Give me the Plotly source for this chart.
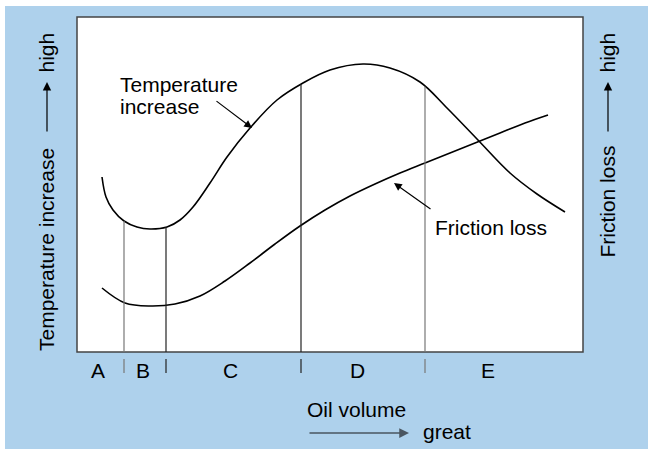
import numpy as np
import plotly.graph_objects as go

# ---- data (arbitrary units: oil volume vs. level) ----
temp_x = [25, 29, 36, 47, 60, 73, 90, 103, 116, 133, 150, 173, 200, 226, 253, 286, 313, 343, 370, 400, 433, 460, 488]
temp_y = [175, 155, 142, 131, 125, 123, 125, 132, 145, 169, 195, 224, 252, 269, 282, 288, 284, 270, 244, 213, 179, 158, 140]

fric_x = [25, 48, 73, 98, 123, 148, 173, 198, 223, 248, 273, 298, 323, 348, 373, 398, 423, 448, 471]
fric_y = [64, 49, 46, 48, 56, 71, 89, 108, 126, 142, 156, 168, 179, 189, 199, 209, 219, 229, 237]

zone_bounds = [47, 89, 224, 348]
zone_colors = ["#777777", "#222222", "#222222", "#777777"]
zone_labels = ["A", "B", "C", "D", "E"]
zone_label_x = [21, 66, 153, 280, 411]

X_RANGE = [0, 506]
Y_RANGE = [0, 335]

FONT = "Liberation Sans, Arial, sans-serif"
FS = 21
BLUE = "#aed1ec"

fig = go.Figure()

fig.add_trace(go.Scatter(x=temp_x, y=temp_y, mode="lines",
                         line=dict(color="black", width=1.6, shape="spline", smoothing=1.0),
                         hoverinfo="skip", showlegend=False))
fig.add_trace(go.Scatter(x=fric_x, y=fric_y, mode="lines",
                         line=dict(color="black", width=1.6, shape="spline", smoothing=1.0),
                         hoverinfo="skip", showlegend=False))

shapes = []
shapes.append(dict(type="rect", xref="paper", yref="paper", x0=-0.1423, x1=1.3, y0=-0.4, y1=1.0328,
                   fillcolor=BLUE, line=dict(width=0), layer="below"))
shapes.append(dict(type="rect", xref="paper", yref="paper", x0=0, x1=1, y0=0, y1=1,
                   fillcolor="white", line=dict(color="#444444", width=1.5), layer="below"))

for b, c in zip(zone_bounds, zone_colors):
    top = float(np.interp(b, temp_x, temp_y))
    shapes.append(dict(type="line", xref="x", yref="y", x0=b, x1=b, y0=0, y1=top,
                       line=dict(color=c, width=1.2)))
    shapes.append(dict(type="line", xref="x", yref="paper", x0=b, x1=b, y0=-0.021, y1=-0.063,
                       line=dict(color=c, width=1.2)))

annotations = []
for lab, lx in zip(zone_labels, zone_label_x):
    annotations.append(dict(x=lx, y=-0.054, xref="x", yref="paper", text=lab, showarrow=False,
                            xanchor="center", yanchor="middle", font=dict(size=FS, color="black", family=FONT)))

annotations.append(dict(x=41, y=268, xref="x", yref="y", text="Temperature", showarrow=False,
                        xanchor="left", yanchor="middle", font=dict(size=FS, color="black", family=FONT)))
annotations.append(dict(x=41, y=246, xref="x", yref="y", text="increase", showarrow=False,
                        xanchor="left", yanchor="middle", font=dict(size=FS, color="black", family=FONT)))
annotations.append(dict(x=356, y=125, xref="x", yref="y", text="Friction loss", showarrow=False,
                        xanchor="left", yanchor="middle", font=dict(size=FS, color="black", family=FONT)))

annotations.append(dict(x=175, y=224, ax=138, ay=252, xref="x", yref="y", axref="x", ayref="y",
                        text="", showarrow=True, arrowhead=2, arrowsize=1.3, arrowwidth=1.2, arrowcolor="black"))
annotations.append(dict(x=317, y=169, ax=355, ay=142, xref="x", yref="y", axref="x", ayref="y",
                        text="", showarrow=True, arrowhead=2, arrowsize=1.3, arrowwidth=1.2, arrowcolor="black"))

annotations.append(dict(x=-0.0593, y=0.3075, xref="paper", yref="paper", text="Temperature increase",
                        textangle=-90, showarrow=False, xanchor="center", yanchor="middle",
                        font=dict(size=FS, color="black", family=FONT)))
annotations.append(dict(x=-0.0593, y=0.894, xref="paper", yref="paper", text="high",
                        textangle=-90, showarrow=False, xanchor="center", yanchor="middle",
                        font=dict(size=FS, color="black", family=FONT)))
annotations.append(dict(x=-0.0593, y=0.806, xref="paper", yref="paper", ax=0, ay=51, text="",
                        showarrow=True, arrowhead=2, arrowsize=1.4, arrowwidth=1.2, arrowcolor="black"))
annotations.append(dict(x=1.0494, y=0.449, xref="paper", yref="paper", text="Friction loss",
                        textangle=-90, showarrow=False, xanchor="center", yanchor="middle",
                        font=dict(size=FS, color="black", family=FONT)))
annotations.append(dict(x=1.0494, y=0.894, xref="paper", yref="paper", text="high",
                        textangle=-90, showarrow=False, xanchor="center", yanchor="middle",
                        font=dict(size=FS, color="black", family=FONT)))
annotations.append(dict(x=1.0494, y=0.806, xref="paper", yref="paper", ax=0, ay=51, text="",
                        showarrow=True, arrowhead=2, arrowsize=1.4, arrowwidth=1.2, arrowcolor="black"))

annotations.append(dict(x=0.553, y=-0.173, xref="paper", yref="paper", text="Oil volume",
                        showarrow=False, xanchor="center", yanchor="middle",
                        font=dict(size=FS, color="black", family=FONT)))
annotations.append(dict(x=0.6561, y=-0.2418, xref="paper", yref="paper", ax=-101, ay=0, text="",
                        showarrow=True, arrowhead=2, arrowsize=1.3, arrowwidth=1.5, arrowcolor="#4a5560"))
annotations.append(dict(x=0.6798, y=-0.2388, xref="paper", yref="paper", text="great",
                        showarrow=False, xanchor="left", yanchor="middle",
                        font=dict(size=FS, color="black", family=FONT)))

fig.update_layout(
    width=648, height=449,
    margin=dict(l=77, r=65, t=17, b=97),
    paper_bgcolor="white",
    plot_bgcolor="rgba(0,0,0,0)",
    shapes=shapes,
    annotations=annotations,
    xaxis=dict(range=X_RANGE, showgrid=False, zeroline=False, showticklabels=False, ticks="",
               showline=False, fixedrange=True),
    yaxis=dict(range=Y_RANGE, showgrid=False, zeroline=False, showticklabels=False, ticks="",
               showline=False, fixedrange=True),
    showlegend=False,
)

fig.write_html("out.html", config={"displayModeBar": False},
               post_script="document.body.style.margin='0px';")
